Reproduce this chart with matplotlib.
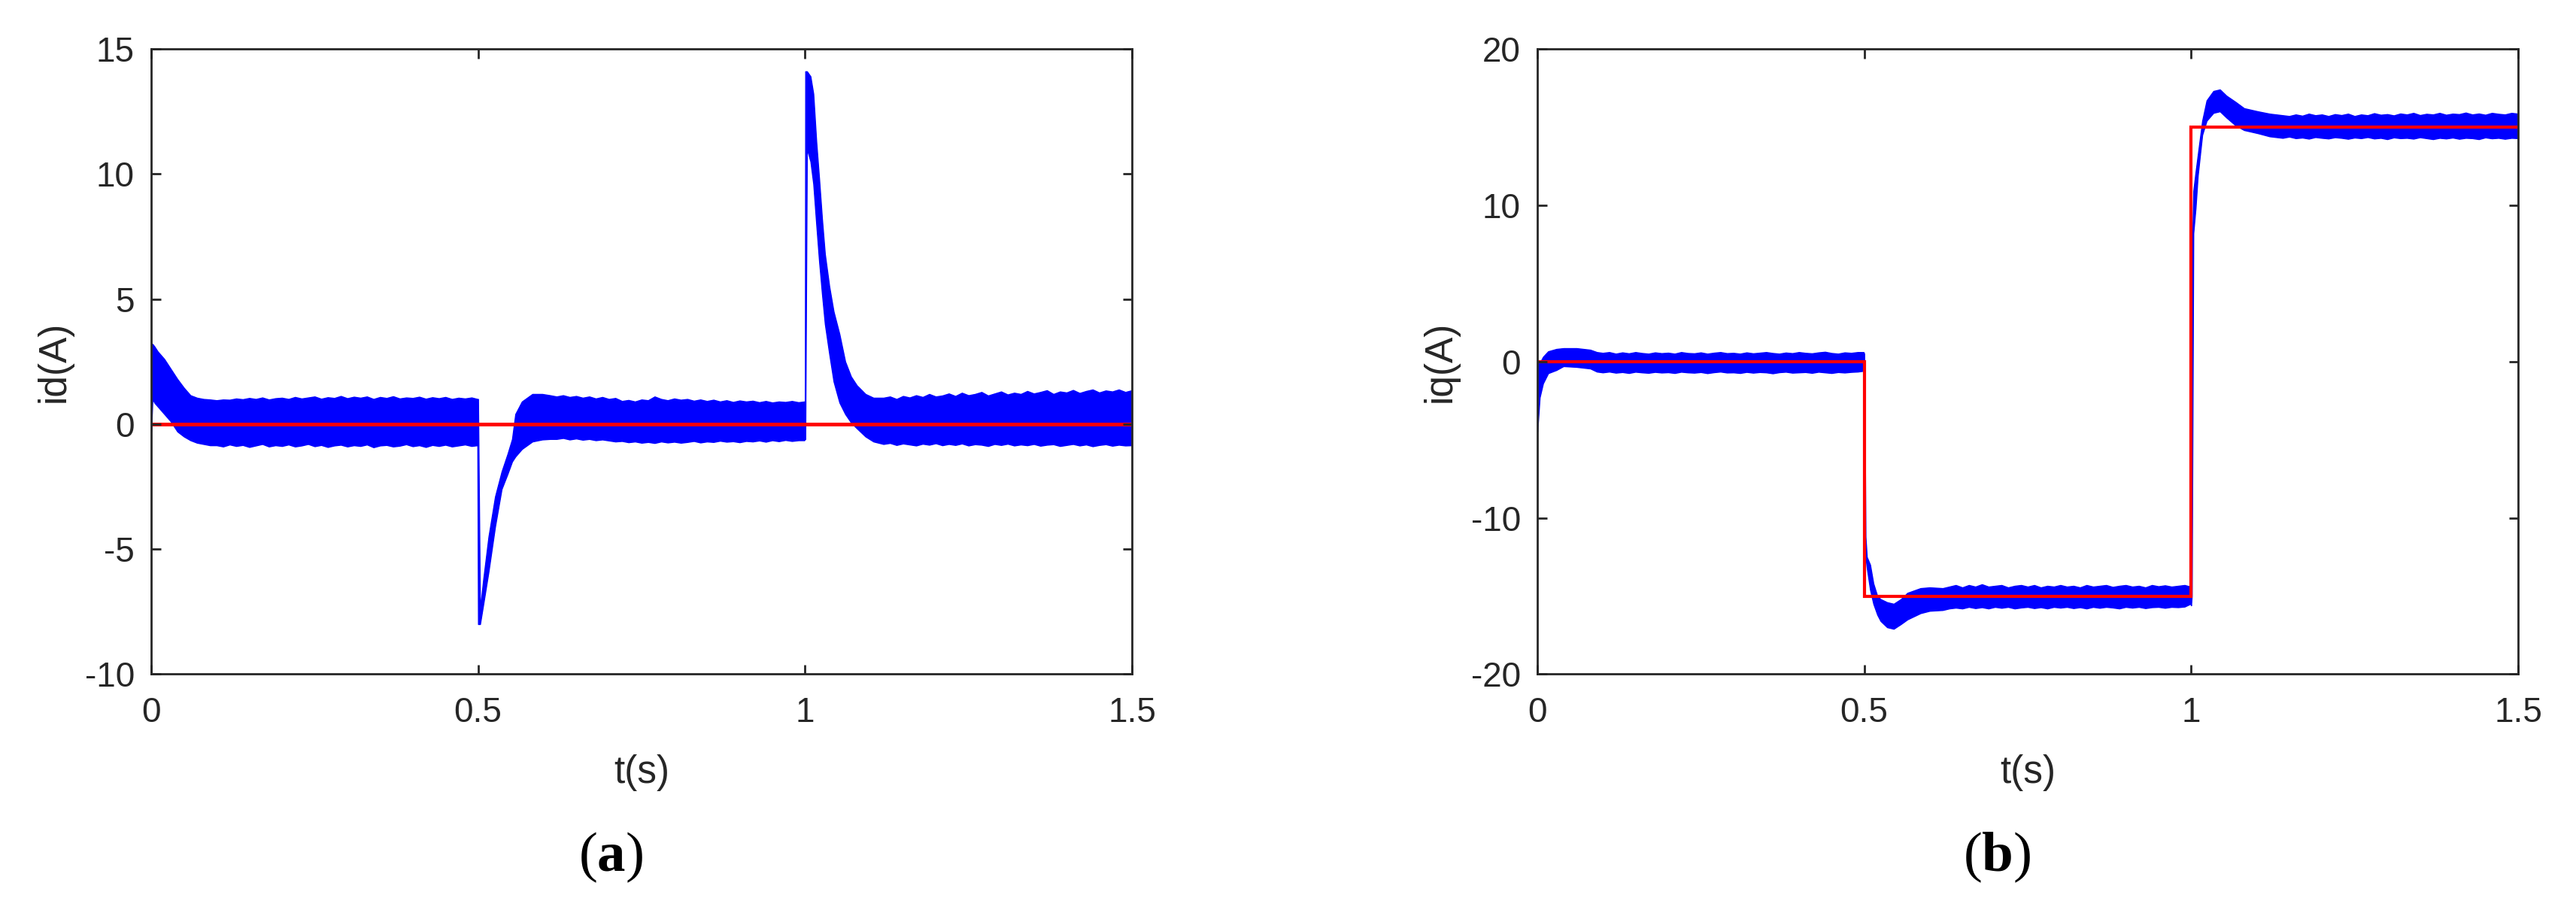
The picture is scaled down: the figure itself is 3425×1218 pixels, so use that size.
import numpy as np
import matplotlib
matplotlib.use('Agg')
import matplotlib.pyplot as plt

plt.rcParams['font.family'] = ['Liberation Sans', 'DejaVu Sans']
plt.rcParams['axes.unicode_minus'] = False
plt.rcParams['mathtext.fontset'] = 'custom'
plt.rcParams['mathtext.rm'] = 'Liberation Serif'
plt.rcParams['mathtext.bf'] = 'Liberation Serif:bold'

# ---- id(A): upper / lower edge of the rippled measured band, read off the figure ----
# start-up transient
t_id_a = [0.0, 0.002, 0.005, 0.01, 0.02, 0.03, 0.04, 0.05, 0.06, 0.07, 0.08, 0.09]
id_hi_a = [3.2, 3.2, 3.1, 2.9, 2.6, 2.2, 1.8, 1.45, 1.15, 1.05, 1.0, 0.98]
id_lo_a = [-0.3, 1.0, 0.85, 0.7, 0.4, 0.1, -0.3, -0.5, -0.65, -0.75, -0.8, -0.85]
# steady part 0.10 .. 0.49
t_id_b = np.round(np.arange(0.10, 0.495, 0.01), 3)
id_hi_b = [0.95, 0.98, 0.97, 1.02, 0.99, 1.04, 1.0, 1.06, 0.98, 1.03,
           1.05, 1.0, 1.08, 1.02, 1.06, 1.1, 1.01, 1.07, 1.04, 1.12,
           1.03, 1.09, 1.05, 1.1, 1.0, 1.08, 1.04, 1.11, 1.02, 1.06,
           1.04, 1.09, 1.01, 1.07, 1.03, 1.08, 1.0, 1.05, 1.02, 1.06]
id_lo_b = [-0.85, -0.9, -0.82, -0.88, -0.84, -0.92, -0.86, -0.8, -0.9, -0.85,
           -0.88, -0.82, -0.9, -0.86, -0.8, -0.89, -0.84, -0.92, -0.86, -0.83,
           -0.9, -0.85, -0.88, -0.82, -0.93, -0.86, -0.84, -0.9, -0.87, -0.81,
           -0.89, -0.85, -0.92, -0.84, -0.88, -0.83, -0.9, -0.86, -0.82, -0.88]
# dip at t = 0.5
t_id_c = [0.499, 0.5, 0.503, 0.508, 0.516, 0.526, 0.536, 0.545, 0.552, 0.557, 0.567, 0.583, 0.598, 0.61]
id_hi_c = [1.0, 1.0, -7.4, -6.2, -4.5, -2.9, -1.9, -1.2, -0.6, 0.4, 0.9, 1.2, 1.2, 1.15]
id_lo_c = [-0.85, -8.0, -8.0, -7.2, -5.9, -4.1, -2.6, -2.0, -1.5, -1.3, -1.0, -0.7, -0.62, -0.6]
# steady part 0.62 .. 0.99
t_id_d = np.round(np.arange(0.62, 0.995, 0.01), 3)
id_hi_d = [1.1, 1.15, 1.08, 1.12, 1.05, 1.1, 1.02, 1.08, 1.0, 1.04,
           0.92, 0.96, 0.9, 0.98, 0.95, 1.1, 1.0, 0.95, 1.02, 0.97,
           1.0, 0.93, 0.98, 0.92, 0.97, 0.9, 0.95, 0.88, 0.94, 0.9,
           0.93, 0.87, 0.92, 0.86, 0.9, 0.88, 0.92, 0.87]
id_lo_d = [-0.6, -0.56, -0.62, -0.58, -0.63, -0.6, -0.65, -0.62, -0.66, -0.7,
           -0.68, -0.73, -0.7, -0.75, -0.72, -0.76, -0.7, -0.74, -0.71, -0.75,
           -0.72, -0.68, -0.74, -0.7, -0.72, -0.67, -0.71, -0.69, -0.73, -0.68,
           -0.7, -0.66, -0.71, -0.65, -0.69, -0.64, -0.68, -0.65]
# spike at t = 1.0
t_id_e = [0.999, 1.0, 1.0005, 1.003, 1.0084, 1.0128, 1.0173, 1.0217, 1.0261, 1.0305,
          1.0372, 1.0438, 1.0527, 1.0615, 1.0704, 1.0792, 1.0925, 1.1047]
id_hi_e = [0.9, 0.9, 14.1, 14.1, 13.9, 13.2, 11.3, 9.8, 8.2, 6.8,
           5.5, 4.5, 3.6, 2.5, 1.9, 1.55, 1.2, 1.05]
id_lo_e = [-0.65, -0.6, -0.6, 11.0, 10.5, 9.6, 8.0, 6.5, 5.2, 4.0,
           2.8, 1.7, 0.86, 0.4, 0.06, -0.17, -0.5, -0.7]
# steady part 1.12 .. 1.50
t_id_f = np.round(np.arange(1.12, 1.505, 0.01), 3)
id_hi_f = [1.05, 1.1, 1.0, 1.12, 1.06, 1.15, 1.08, 1.2, 1.1, 1.14,
           1.22, 1.12, 1.25, 1.15, 1.2, 1.28, 1.14, 1.22, 1.3, 1.18,
           1.25, 1.2, 1.32, 1.22, 1.28, 1.35, 1.2, 1.3, 1.26, 1.36,
           1.24, 1.32, 1.38, 1.26, 1.34, 1.3, 1.38, 1.28, 1.35]
id_lo_f = [-0.8, -0.76, -0.84, -0.78, -0.82, -0.86, -0.79, -0.83, -0.77, -0.85,
           -0.8, -0.84, -0.78, -0.86, -0.81, -0.83, -0.88, -0.8, -0.84, -0.79,
           -0.86, -0.82, -0.85, -0.8, -0.87, -0.83, -0.81, -0.88, -0.84, -0.8,
           -0.86, -0.82, -0.89, -0.84, -0.81, -0.87, -0.83, -0.86, -0.85]

# ---- iq(A): upper / lower edge of the measured band ----
t_iq_a = [0.0, 0.0036, 0.0087, 0.0165, 0.029, 0.04, 0.06, 0.081, 0.091]
iq_hi_a = [-0.1, -0.1, 0.3, 0.65, 0.8, 0.85, 0.85, 0.75, 0.6]
iq_lo_a = [-4.5, -2.3, -1.4, -0.75, -0.55, -0.3, -0.35, -0.45, -0.65]
t_iq_b = np.round(np.arange(0.10, 0.495, 0.01), 3)
iq_hi_b = [0.55, 0.6, 0.5, 0.58, 0.52, 0.6, 0.54, 0.5, 0.58, 0.53,
           0.56, 0.5, 0.6, 0.54, 0.52, 0.58, 0.5, 0.56, 0.6, 0.53,
           0.55, 0.5, 0.58, 0.52, 0.56, 0.6, 0.54, 0.5, 0.57, 0.53,
           0.6, 0.55, 0.52, 0.58, 0.62, 0.54, 0.5, 0.58, 0.55, 0.6]
iq_lo_b = [-0.7, -0.65, -0.72, -0.68, -0.74, -0.66, -0.7, -0.73, -0.67, -0.71,
           -0.69, -0.74, -0.66, -0.7, -0.72, -0.68, -0.75, -0.69, -0.65, -0.71,
           -0.7, -0.74, -0.67, -0.72, -0.68, -0.7, -0.76, -0.69, -0.66, -0.72,
           -0.7, -0.68, -0.73, -0.66, -0.7, -0.74, -0.68, -0.71, -0.67, -0.65]
t_iq_c = [0.499, 0.5, 0.502, 0.504, 0.509, 0.514, 0.520, 0.525, 0.535, 0.545, 0.556, 0.566, 0.586, 0.60]
iq_hi_c = [0.6, 0.5, -11.2, -12.5, -13.0, -14.2, -15.0, -15.2, -15.4, -15.5, -15.2, -14.8, -14.5, -14.45]
iq_lo_c = [-0.6, -11.2, -12.5, -13.2, -14.6, -15.5, -16.2, -16.6, -17.0, -17.1, -16.8, -16.5, -16.1, -15.95]
t_iq_d = np.round(np.arange(0.62, 0.995, 0.01), 3)
iq_hi_d = [-14.5, -14.4, -14.3, -14.45, -14.3, -14.4, -14.25, -14.4, -14.35, -14.3,
           -14.45, -14.35, -14.3, -14.4, -14.3, -14.45, -14.35, -14.4, -14.3, -14.4,
           -14.35, -14.45, -14.3, -14.4, -14.35, -14.3, -14.42, -14.35, -14.3, -14.4,
           -14.35, -14.45, -14.3, -14.38, -14.32, -14.4, -14.35, -14.3]
iq_lo_d = [-15.9, -15.8, -15.75, -15.8, -15.7, -15.78, -15.72, -15.8, -15.7, -15.76,
           -15.7, -15.8, -15.74, -15.7, -15.78, -15.72, -15.8, -15.7, -15.75, -15.7,
           -15.78, -15.72, -15.8, -15.7, -15.76, -15.7, -15.74, -15.8, -15.7, -15.75,
           -15.7, -15.78, -15.72, -15.7, -15.76, -15.7, -15.72, -15.68]
t_iq_e = [0.999, 1.0, 1.001, 1.0034, 1.0068, 1.0102, 1.0136, 1.017, 1.0237, 1.034,
          1.044, 1.054, 1.068, 1.081, 1.102, 1.12]
iq_hi_e = [-14.4, -14.4, 6.0, 10.9, 12.1, 13.2, 14.3, 15.4, 16.7, 17.3,
           17.4, 17.0, 16.6, 16.2, 16.0, 15.85]
iq_lo_e = [-15.5, -15.6, -15.0, 8.2, 9.8, 11.9, 13.2, 14.5, 15.4, 15.9,
           16.0, 15.6, 15.1, 14.8, 14.6, 14.4]
t_iq_f = np.round(np.arange(1.13, 1.505, 0.01), 3)
iq_hi_f = [15.8, 15.75, 15.7, 15.8, 15.72, 15.85, 15.75, 15.8, 15.7, 15.82,
           15.76, 15.85, 15.7, 15.8, 15.75, 15.88, 15.78, 15.82, 15.74, 15.86,
           15.8, 15.9, 15.76, 15.84, 15.8, 15.9, 15.78, 15.85, 15.82, 15.92,
           15.8, 15.86, 15.78, 15.9, 15.84, 15.8, 15.9, 15.85]
iq_lo_f = [14.35, 14.3, 14.38, 14.28, 14.32, 14.25, 14.35, 14.3, 14.26, 14.34,
           14.3, 14.24, 14.32, 14.28, 14.35, 14.26, 14.3, 14.22, 14.33, 14.28,
           14.3, 14.25, 14.34, 14.28, 14.22, 14.3, 14.26, 14.32, 14.24, 14.3,
           14.28, 14.22, 14.33, 14.27, 14.3, 14.24, 14.3, 14.28]

# reference currents (step commands)
t_ref = [0.0, 0.5, 1.0, 1.5]
id_ref = [0, 0, 0]
iq_ref = [0, -15, 15]

t_id = np.concatenate([t_id_a, t_id_b, t_id_c, t_id_d, t_id_e, t_id_f])
id_hi = np.concatenate([id_hi_a, id_hi_b, id_hi_c, id_hi_d, id_hi_e, id_hi_f])
id_lo = np.concatenate([id_lo_a, id_lo_b, id_lo_c, id_lo_d, id_lo_e, id_lo_f])
t_iq = np.concatenate([t_iq_a, t_iq_b, t_iq_c, t_iq_d, t_iq_e, t_iq_f])
iq_hi = np.concatenate([iq_hi_a, iq_hi_b, iq_hi_c, iq_hi_d, iq_hi_e, iq_hi_f])
iq_lo = np.concatenate([iq_lo_a, iq_lo_b, iq_lo_c, iq_lo_d, iq_lo_e, iq_lo_f])

dark = '#262626'
fig = plt.figure(figsize=(34.25, 12.18), dpi=100)
ax1 = fig.add_axes([0.0587, 0.2640, 0.3807, 0.6827])
ax2 = fig.add_axes([0.5968, 0.2640, 0.3807, 0.6827])

ax1.fill_between(t_id, id_lo, id_hi, color='#0000ff', lw=1.0)
ax1.stairs(id_ref, t_ref, baseline=None, color='#ff0000', lw=3.5)
ax2.fill_between(t_iq, iq_lo, iq_hi, color='#0000ff', lw=1.0)
ax2.stairs(iq_ref, t_ref, baseline=None, color='#ff0000', lw=3)


def style(ax, ylim, yticks, ylabel):
    ax.set_xlim(0, 1.5)
    ax.set_ylim(*ylim)
    ax.set_xticks([0, 0.5, 1, 1.5])
    ax.set_xticklabels(['0', '0.5', '1', '1.5'])
    ax.set_yticks(yticks)
    ax.tick_params(direction='in', top=True, right=True, length=9, width=2,
                   labelsize=33, colors=dark)
    ax.tick_params(axis='x', pad=21)
    ax.tick_params(axis='y', pad=16)
    for s in ax.spines.values():
        s.set_linewidth(2)
        s.set_color(dark)
    ax.set_xlabel('t(s)', fontsize=37, color=dark)
    ax.xaxis.set_label_coords(0.5, -0.128)
    ax.set_ylabel(ylabel, fontsize=37, color=dark)
    ax.yaxis.set_label_coords(-0.08, 0.5)


style(ax1, (-10, 15), [-10, -5, 0, 5, 10, 15], 'id(A)')
style(ax2, (-20, 20), [-20, -10, 0, 10, 20], 'iq(A)')

fig.text(812 / 3425, 1 - 1140 / 1218, r'$\mathrm{(}\mathbf{a}\mathrm{)}$',
         fontsize=54, ha='center', va='center', color='black')
fig.text(2655 / 3425, 1 - 1140 / 1218, r'$\mathrm{(}\mathbf{b}\mathrm{)}$',
         fontsize=54, ha='center', va='center', color='black')

fig.savefig('out.png', dpi=100)
